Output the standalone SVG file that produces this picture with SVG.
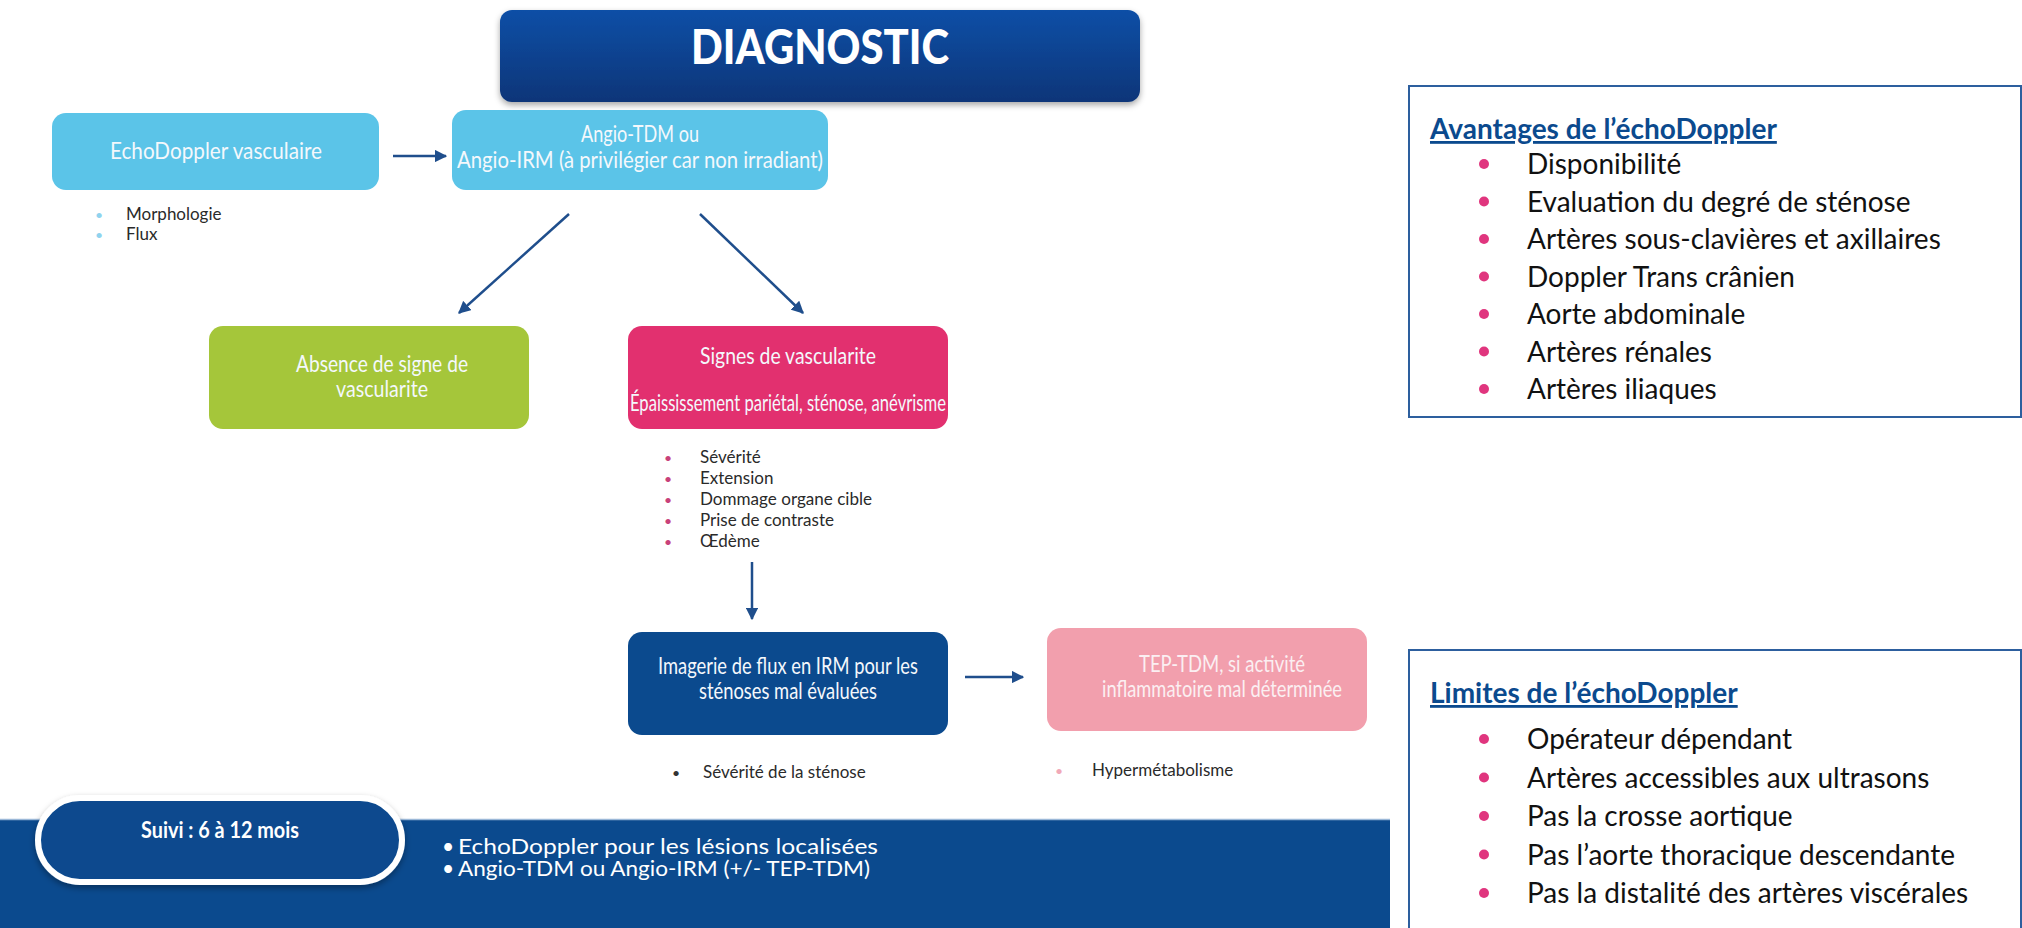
<svg xmlns="http://www.w3.org/2000/svg" width="2022" height="928" viewBox="0 0 2022 928">
<defs>
<linearGradient id="gTitle" x1="0" y1="0" x2="0" y2="1">
<stop offset="0" stop-color="#0F4FA6"/>
<stop offset="1" stop-color="#0A3578"/>
</linearGradient>
<filter id="sh" x="-5%" y="-20%" width="110%" height="150%">
<feDropShadow dx="0" dy="3" stdDeviation="3" flood-color="#000" flood-opacity="0.35"/>
</filter>
<marker id="ah" viewBox="0 0 10 10" refX="9" refY="5" markerWidth="5" markerHeight="5" orient="auto" markerUnits="strokeWidth">
<path d="M0,0 L10,5 L0,10 z" fill="#1F4E8C"/>
</marker>
<style>
.t{font-family:Lato,"Open Sans","Liberation Sans",sans-serif}
.bw{fill:#F4F8FC;font-size:23px;text-anchor:middle}
.li{fill:#2A2A2A;font-size:17px}
.rb{fill:#111;font-size:28px}
.rh{fill:#0B4A8E;font-size:28px;font-weight:bold;text-decoration:underline}
.con{stroke:#1F4E8C;stroke-width:2.5;fill:none;marker-end:url(#ah)}
.frame{fill:#fff;stroke:#2D5F9E;stroke-width:2}
</style>
</defs>
<rect width="2022" height="928" fill="#fff"/>

<g id="bottom-band">
<rect x="0" y="819" width="1390" height="109" fill="#0B4A8E"/>
<line x1="0" y1="819.5" x2="1390" y2="819.5" stroke="#9BB8D8" stroke-width="1.5"/>
<text class="t" fill="#fff" font-size="21" x="442" y="854">•</text>
<text class="t" fill="#fff" font-size="21" x="458" y="854" textLength="420" lengthAdjust="spacingAndGlyphs">EchoDoppler pour les lésions localisées</text>
<text class="t" fill="#fff" font-size="21" x="442" y="876">•</text>
<text class="t" fill="#fff" font-size="21" x="458" y="876" textLength="412" lengthAdjust="spacingAndGlyphs">Angio-TDM ou Angio-IRM  (+/- TEP-TDM)</text>
</g>

<g id="suivi">
<rect x="38" y="798" width="364" height="84" rx="42" fill="#0B4A8E" stroke="#fff" stroke-width="6" filter="url(#sh)"/>
<text class="t" x="220" y="838" fill="#fff" font-size="23" font-weight="bold" text-anchor="middle" textLength="158" lengthAdjust="spacingAndGlyphs">Suivi : 6 à 12 mois</text>
</g>

<g id="title">
<rect x="500" y="10" width="640" height="92" rx="12" fill="url(#gTitle)" filter="url(#sh)"/>
<text class="t" x="820" y="64" fill="#fff" font-size="48" font-weight="900" text-anchor="middle" textLength="258" lengthAdjust="spacingAndGlyphs">DIAGNOSTIC</text>
</g>

<g id="echodoppler">
<rect x="52" y="113" width="327" height="77" rx="14" fill="#5BC4E8"/>
<text class="t bw" x="216" y="159" textLength="212" lengthAdjust="spacingAndGlyphs">EchoDoppler vasculaire</text>
<text class="t" x="95" y="220" fill="#8FD3EE" font-size="14">•</text>
<text class="t li" x="126" y="220">Morphologie</text>
<text class="t" x="95" y="240" fill="#8FD3EE" font-size="14">•</text>
<text class="t li" x="126" y="240">Flux</text>
</g>

<g id="angio">
<rect x="452" y="110" width="376" height="80" rx="14" fill="#5BC4E8"/>
<text class="t bw" x="640" y="142" textLength="118" lengthAdjust="spacingAndGlyphs">Angio-TDM ou</text>
<text class="t bw" x="640" y="168" textLength="366" lengthAdjust="spacingAndGlyphs">Angio-IRM (à privilégier car non irradiant)</text>
</g>

<g id="absence">
<rect x="209" y="326" width="320" height="103" rx="14" fill="#A5C63A"/>
<text class="t bw" x="382" y="372" textLength="172" lengthAdjust="spacingAndGlyphs">Absence de signe de</text>
<text class="t bw" x="382" y="397" textLength="92" lengthAdjust="spacingAndGlyphs">vascularite</text>
</g>

<g id="signes">
<rect x="628" y="326" width="320" height="103" rx="14" fill="#E2306F"/>
<text class="t bw" x="788" y="364" textLength="176" lengthAdjust="spacingAndGlyphs">Signes de vascularite</text>
<text class="t bw" x="788" y="411" font-size="17" textLength="316" lengthAdjust="spacingAndGlyphs">Épaississement pariétal, sténose, anévrisme</text>
<text class="t" x="664" y="463" fill="#C8417A" font-size="14">•</text>
<text class="t li" x="700" y="463">Sévérité</text>
<text class="t" x="664" y="484" fill="#C8417A" font-size="14">•</text>
<text class="t li" x="700" y="484">Extension</text>
<text class="t" x="664" y="505" fill="#C8417A" font-size="14">•</text>
<text class="t li" x="700" y="505" textLength="172" lengthAdjust="spacingAndGlyphs">Dommage organe cible</text>
<text class="t" x="664" y="526" fill="#C8417A" font-size="14">•</text>
<text class="t li" x="700" y="526" textLength="134" lengthAdjust="spacingAndGlyphs">Prise de contraste</text>
<text class="t" x="664" y="547" fill="#C8417A" font-size="14">•</text>
<text class="t li" x="700" y="547">Œdème</text>
</g>

<g id="imagerie">
<rect x="628" y="632" width="320" height="103" rx="14" fill="#0B4A8E"/>
<text class="t bw" x="788" y="674" textLength="260" lengthAdjust="spacingAndGlyphs">Imagerie de flux en IRM pour les</text>
<text class="t bw" x="788" y="699" textLength="178" lengthAdjust="spacingAndGlyphs">sténoses mal évaluées</text>
<text class="t" x="672" y="778" fill="#333" font-size="14">•</text>
<text class="t li" x="703" y="778">Sévérité de la sténose</text>
</g>

<g id="tep">
<rect x="1047" y="628" width="320" height="103" rx="14" fill="#F29FAD"/>
<text class="t" x="1222" y="672" fill="#FBEFF2" font-size="23" text-anchor="middle" textLength="166" lengthAdjust="spacingAndGlyphs">TEP-TDM, si activité</text>
<text class="t" x="1222" y="697" fill="#FBEFF2" font-size="23" text-anchor="middle" textLength="240" lengthAdjust="spacingAndGlyphs">inflammatoire mal déterminée</text>
<text class="t" x="1055" y="776" fill="#F1A9B8" font-size="14">•</text>
<text class="t li" x="1092" y="776">Hypermétabolisme</text>
</g>

<g id="connectors">
<line class="con" x1="393" y1="156" x2="446" y2="156"/>
<line class="con" x1="569" y1="214" x2="459" y2="313"/>
<line class="con" x1="700" y1="214" x2="803" y2="313"/>
<line class="con" x1="752" y1="562" x2="752" y2="619"/>
<line class="con" x1="965" y1="677" x2="1023" y2="677"/>
</g>

<g id="avantages">
<rect class="frame" x="1409" y="86" width="612" height="331"/>
<text class="t rh" x="1430" y="139">Avantages de l’échoDoppler</text>
<g fill="#E0357E">
<circle cx="1484" cy="164" r="5"/><circle cx="1484" cy="201.5" r="5"/><circle cx="1484" cy="239" r="5"/><circle cx="1484" cy="276.5" r="5"/><circle cx="1484" cy="314" r="5"/><circle cx="1484" cy="351.5" r="5"/><circle cx="1484" cy="389" r="5"/>
</g>
<text class="t rb" x="1527" y="174">Disponibilité</text>
<text class="t rb" x="1527" y="211.5">Evaluation du degré de sténose</text>
<text class="t rb" x="1527" y="249">Artères sous-clavières et axillaires</text>
<text class="t rb" x="1527" y="286.5">Doppler Trans crânien</text>
<text class="t rb" x="1527" y="324">Aorte abdominale</text>
<text class="t rb" x="1527" y="361.5">Artères rénales</text>
<text class="t rb" x="1527" y="399">Artères iliaques</text>
</g>

<g id="limites">
<rect class="frame" x="1409" y="650" width="612" height="300"/>
<text class="t rh" x="1430" y="703">Limites de l’échoDoppler</text>
<g fill="#E0357E">
<circle cx="1484" cy="739" r="5"/><circle cx="1484" cy="777.5" r="5"/><circle cx="1484" cy="816" r="5"/><circle cx="1484" cy="854.5" r="5"/><circle cx="1484" cy="893" r="5"/>
</g>
<text class="t rb" x="1527" y="749">Opérateur dépendant</text>
<text class="t rb" x="1527" y="787.5">Artères accessibles aux ultrasons</text>
<text class="t rb" x="1527" y="826">Pas la crosse aortique</text>
<text class="t rb" x="1527" y="864.5">Pas l’aorte thoracique descendante</text>
<text class="t rb" x="1527" y="903">Pas la distalité des artères viscérales</text>
</g>
</svg>
